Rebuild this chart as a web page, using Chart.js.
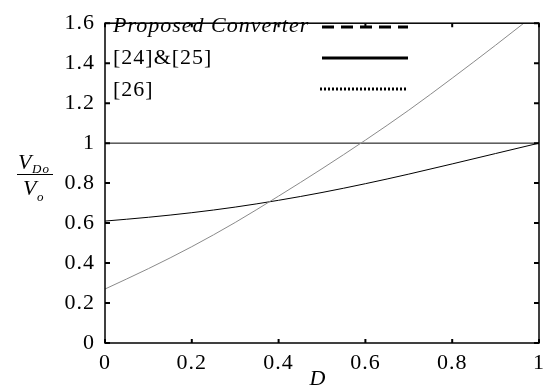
<!DOCTYPE html>
<html>
<head>
<meta charset="utf-8">
<script src="https://cdn.jsdelivr.net/npm/chart.js@4.4.1/dist/chart.umd.min.js"></script>
<style>
  html, body { margin: 0; padding: 0; background: #fff; }
  #wrap { width: 554px; height: 389px; }
</style>
</head>
<body>
<div id="wrap"><canvas id="chart" width="554" height="389"></canvas></div>
<script>
// duty ratio D and normalized voltage V_Do / V_o
const dGray = [0, 0.1, 0.2, 0.3, 0.4, 0.5, 0.6, 0.7, 0.8, 0.9, 0.965];
const vGray = [0.27, 0.372, 0.482, 0.603, 0.735, 0.872, 1.015, 1.165, 1.325, 1.49, 1.6];
const dBlack = [0, 0.1, 0.2, 0.3, 0.4, 0.5, 0.6, 0.7, 0.8, 0.9, 1.0];
const vBlack = [0.61, 0.629, 0.652, 0.68, 0.714, 0.753, 0.797, 0.845, 0.896, 0.948, 1.0];
const dRef = [0, 1];
const vRef = [1, 1];

const xTicks = [0, 0.2, 0.4, 0.6, 0.8, 1];
const yTicks = [0, 0.2, 0.4, 0.6, 0.8, 1, 1.2, 1.4, 1.6];
const legendLabels = ['Proposed Converter', '[24]&[25]', '[26]'];

const serif = "'Liberation Serif', 'Times New Roman', serif";
Chart.defaults.font.family = serif;
Chart.defaults.font.size = 22;
Chart.defaults.color = '#000';

const toPoints = (xs, ys) => xs.map((x, i) => ({ x: x, y: ys[i] }));

// the reference text is stretched sideways, so widen it a little
const spacing = {
    id: 'spacing',
    beforeLayout(chart) { chart.ctx.letterSpacing = '1px'; },
    beforeDraw(chart) { chart.ctx.letterSpacing = '1px'; }
};

const frame = {
    id: 'frame',
    afterDraw(chart) {
        const ctx = chart.ctx;
        const a = chart.chartArea;
        const sx = chart.scales.x, sy = chart.scales.y;
        ctx.save();
        ctx.strokeStyle = '#000';
        ctx.lineWidth = 1.5;
        ctx.strokeRect(a.left, a.top, a.right - a.left, a.bottom - a.top);
        ctx.lineWidth = 2;
        ctx.beginPath();
        xTicks.forEach(t => {
            const px = sx.getPixelForValue(t);
            ctx.moveTo(px, a.bottom); ctx.lineTo(px, a.bottom - 4);
            ctx.moveTo(px, a.top); ctx.lineTo(px, a.top + 4);
        });
        yTicks.forEach(t => {
            const py = sy.getPixelForValue(t);
            ctx.moveTo(a.left, py); ctx.lineTo(a.left + 5, py);
            ctx.moveTo(a.right, py); ctx.lineTo(a.right - 5, py);
        });
        ctx.stroke();

        // legend
        ctx.fillStyle = '#000';
        ctx.textBaseline = 'alphabetic';
        ctx.textAlign = 'left';
        ctx.font = 'italic 22px ' + serif;
        ctx.fillText(legendLabels[0], 113, 32);
        ctx.font = '22px ' + serif;
        ctx.fillText(legendLabels[1], 113, 64);
        ctx.fillText(legendLabels[2], 113, 96);
        ctx.lineWidth = 3;
        ctx.setLineDash([12, 7]);
        ctx.beginPath(); ctx.moveTo(322, 27); ctx.lineTo(408, 27); ctx.stroke();
        ctx.setLineDash([]);
        ctx.beginPath(); ctx.moveTo(322, 58); ctx.lineTo(408, 58); ctx.stroke();
        ctx.setLineDash([2, 2]);
        ctx.beginPath(); ctx.moveTo(320, 89); ctx.lineTo(406, 89); ctx.stroke();
        ctx.setLineDash([]);

        // y axis label V_Do / V_o
        ctx.font = 'italic 22px ' + serif;
        ctx.fillText('V', 18, 169);
        ctx.fillText('V', 23, 195);
        ctx.font = 'italic 13px ' + serif;
        ctx.fillText('Do', 32, 173);
        ctx.fillText('o', 37, 201);
        ctx.lineWidth = 1;
        ctx.beginPath(); ctx.moveTo(17, 174.5); ctx.lineTo(53, 174.5); ctx.stroke();

        // x axis label
        ctx.font = 'italic 22px ' + serif;
        ctx.textAlign = 'center';
        ctx.fillText('D', 318, 385);
        ctx.restore();
    }
};

new Chart(document.getElementById('chart').getContext('2d'), {
    type: 'scatter',
    data: {
        datasets: [
            {
                data: toPoints(dGray, vGray),
                showLine: true,
                borderColor: '#8a8a8a',
                borderWidth: 1,
                pointRadius: 0,
                cubicInterpolationMode: 'monotone'
            },
            {
                data: toPoints(dBlack, vBlack),
                showLine: true,
                borderColor: '#000',
                borderWidth: 1,
                pointRadius: 0,
                cubicInterpolationMode: 'monotone'
            },
            {
                data: toPoints(dRef, vRef),
                showLine: true,
                borderColor: '#000',
                borderWidth: 1,
                pointRadius: 0
            }
        ]
    },
    options: {
        responsive: false,
        animation: false,
        layout: { padding: { top: 12, right: 15, left: 0, bottom: 0 } },
        plugins: {
            legend: { display: false },
            tooltip: { enabled: false }
        },
        scales: {
            x: {
                type: 'linear',
                min: 0,
                max: 1,
                afterBuildTicks: s => { s.ticks = xTicks.map(v => ({ value: v })); },
                afterFit: s => { s.height = 46; },
                grid: { display: false, drawTicks: false, tickLength: 0 },
                border: { display: false },
                ticks: { padding: 7, maxRotation: 0, callback: v => String(+v.toFixed(1)) }
            },
            y: {
                type: 'linear',
                min: 0,
                max: 1.6,
                afterBuildTicks: s => { s.ticks = yTicks.map(v => ({ value: v })); },
                afterFit: s => { s.width = 105; },
                grid: { display: false, drawTicks: false, tickLength: 0 },
                border: { display: false },
                ticks: { padding: 10, callback: v => String(+v.toFixed(1)) }
            }
        }
    },
    plugins: [spacing, frame]
});
</script>
</body>
</html>
